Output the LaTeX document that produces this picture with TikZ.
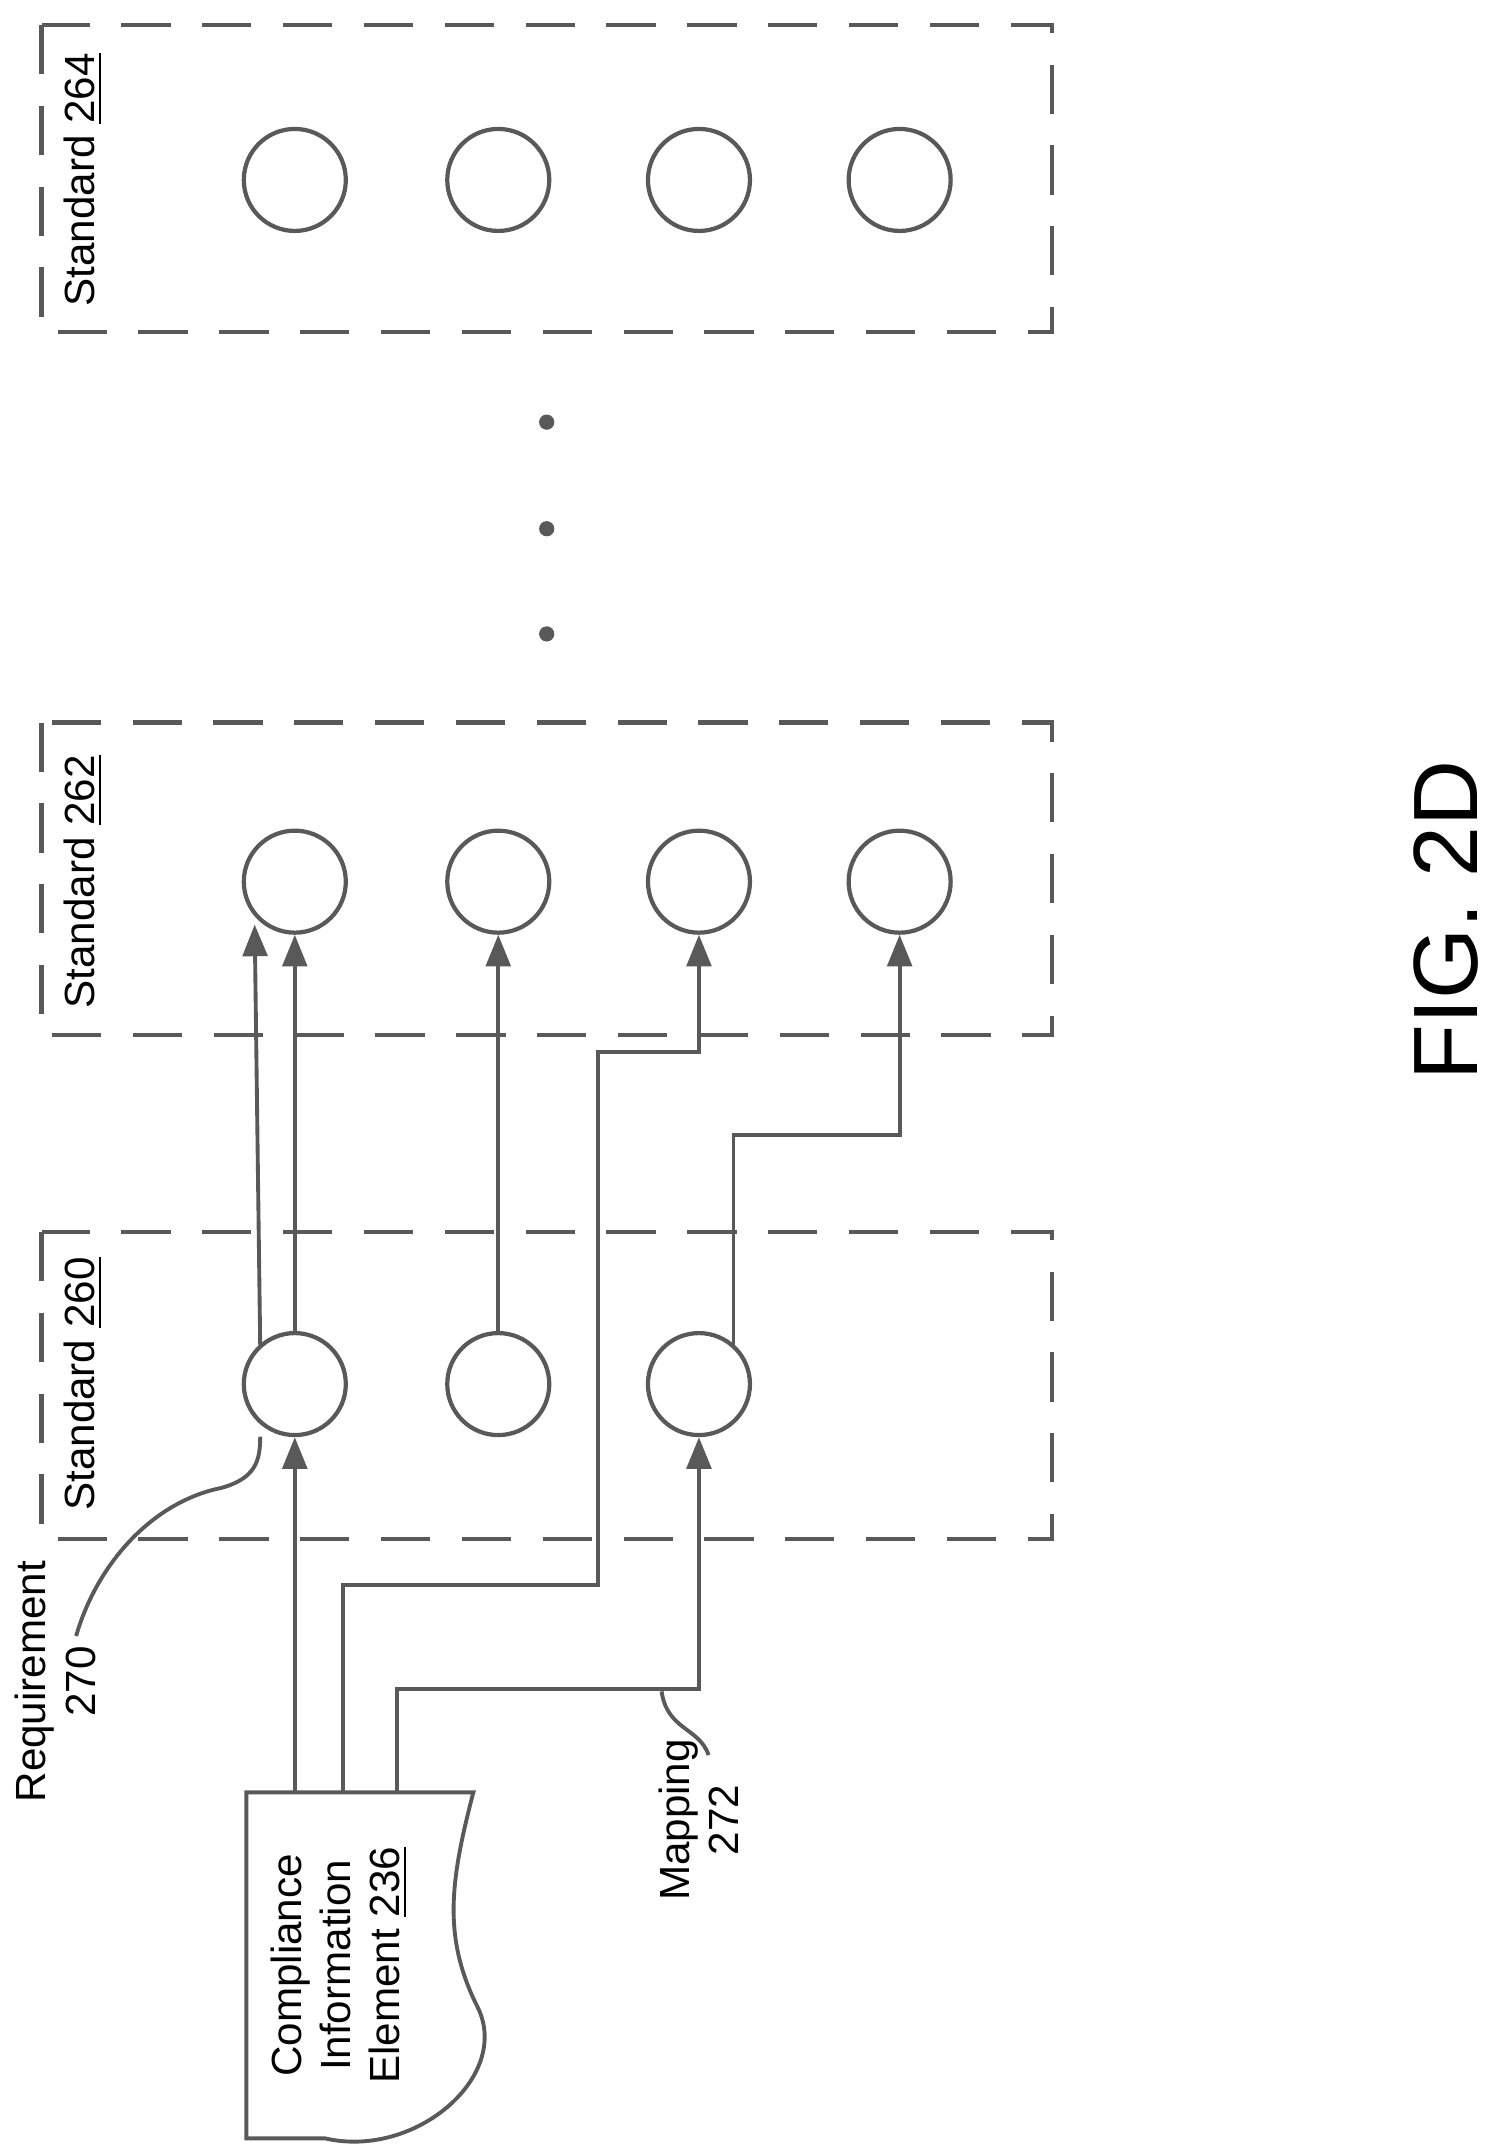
\documentclass[tikz,border=0pt]{standalone}
\usepackage{fontspec}
\setmainfont{Liberation Sans}
\usetikzlibrary{arrows.meta}
\tikzset{
  std/.style={draw, dashed, dash pattern=on 14pt off 9pt, line width=1.2pt, gray!70!black},
  req/.style={draw, circle, minimum size=1.02cm, inner sep=0pt, line width=1.2pt, gray!70!black},
  lbl/.style={rotate=90, font=\fontsize{12}{14}\selectfont, align=center},
  link/.style={line width=1.1pt, gray!70!black, -{Triangle[length=9pt,width=7pt]}},
  wire/.style={line width=1.1pt, gray!70!black}
}
\begin{document}
\begin{tikzpicture}[x=0.013843cm, y=-0.013843cm]
\useasboundingbox (0,0) rectangle (1080,1557);
% standard boxes
\draw[std] (30,18) rectangle (760,240);
\draw[std] (30,522) rectangle (760,748);
\draw[std] (30,890) rectangle (760,1112);
\node[lbl] (t264) at (60,130) {Standard \underline{264}};
\node[lbl] (t262) at (60,637) {Standard \underline{262}};
\node[lbl] (t260) at (60,1000) {Standard \underline{260}};
% requirements
\foreach \i/\x in {1/213,2/360,3/505,4/650}{
  \node[req] (a\i) at (\x,130) {};
  \node[req] (b\i) at (\x,637) {};
}
\foreach \i/\x in {1/213,2/360,3/505}{
  \node[req] (c\i) at (\x,1000) {};
}
% ellipsis
\foreach \y in {305,382,458}{
  \fill[gray!70!black] (395,\y) circle (5.5);
}
% compliance information element
\draw[wire] (178,1295) -- (342,1295)
  .. controls (325,1360) and (320,1400) .. (345,1450)
  .. controls (370,1500) and (300,1560) .. (235,1545)
  -- (178,1545) -- cycle;
\node[lbl] (doc) at (245,1420) {Compliance\\Information\\Element \underline{236}};
\coordinate (d1) at (213,1295);
\coordinate (d2) at (248,1295);
\coordinate (d3) at (287,1295);
\coordinate (c1a) at (188,972);
\coordinate (b1a) at (184,668);
\coordinate (c3a) at (530,972);
% mappings
\draw[link] (d1) -- (c1.south);
\draw[link] (c1.north) -- (b1.south);
\draw[link] (c1a) -- (b1a);
\draw[link] (c2.north) -- (b2.south);
\draw[link] (d2) -- (248,1145) -- (432,1145) -- (432,760) -- (505,760) -- (b3.south);
\draw[link] (d3) -- (287,1220) -- (505,1220) -- (c3.south);
\draw[link] (c3a) -- (530,820) -- (650,820) -- (b4.south);
% callouts
\node[lbl] (l270) at (40,1215) {Requirement\\270};
\coordinate (r1) at (55,1182);
\coordinate (r2) at (188,1038);
\draw[wire] (r1) .. controls (70,1130) and (110,1085) .. (160,1075)
  .. controls (185,1068) and (188,1055) .. (r2);
\node[lbl] (l272) at (505,1315) {Mapping\\272};
\coordinate (m1) at (512,1268);
\coordinate (m2) at (478,1222);
\draw[wire] (m1) .. controls (505,1248) and (482,1250) .. (m2);
\node[rotate=90, font=\fontsize{26}{30}\selectfont] (fig) at (1045,665) {FIG. 2D};
\end{tikzpicture}
\end{document}
